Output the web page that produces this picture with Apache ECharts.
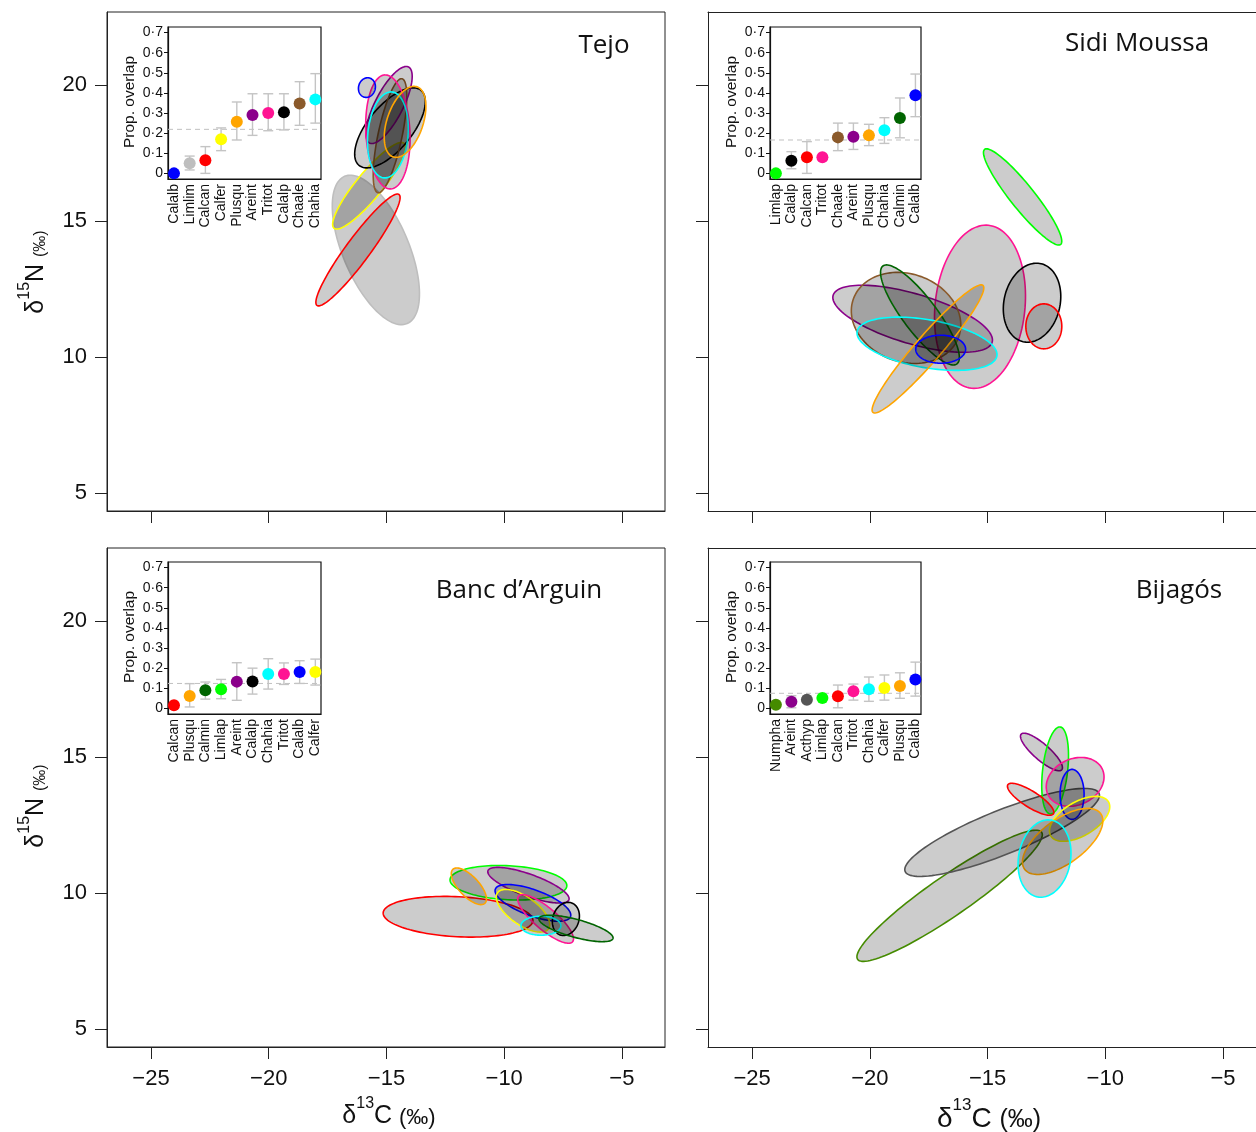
<!DOCTYPE html>
<html><head><meta charset="utf-8">
<script src="https://cdn.jsdelivr.net/npm/echarts@6/dist/echarts.min.js"></script>
<style>html,body{margin:0;padding:0;background:#fff}#c{width:1256px;height:1132px}</style>
</head><body><div id="c"></div><script>
// ---------------- DATA ----------------
const xTicks = [-25, -20, -15, -10, -5];
const yTicks = [5, 10, 15, 20];
const insetTicks = [0, 0.1, 0.2, 0.3, 0.4, 0.5, 0.6, 0.7];
const panelTitles = ['Tejo', 'Sidi Moussa', 'Banc d\u2019Arguin', 'Bijag\u00f3s'];

// Inset: proportional overlap (mean, lower, upper) per species
const tejoNames   = ['Calalb','Limlim','Calcan','Calfer','Plusqu','Areint','Tritot','Calalp','Chaale','Chahia'];
const tejoOverlap = [0, 0.05, 0.065, 0.17, 0.257, 0.29, 0.30, 0.304, 0.347, 0.368];
const tejoLow     = [null, 0.017, 0, 0.113, 0.166, 0.189, 0.212, 0.216, 0.239, 0.25];
const tejoHigh    = [null, 0.086, 0.133, 0.226, 0.355, 0.396, 0.396, 0.396, 0.456, 0.496];
const tejoMean    = 0.219;

const sidiNames   = ['Limlap','Calalp','Calcan','Tritot','Chaale','Areint','Plusqu','Chahia','Calmin','Calalb'];
const sidiOverlap = [0, 0.063, 0.08, 0.08, 0.179, 0.182, 0.189, 0.214, 0.275, 0.388];
const sidiLow     = [null, 0.023, 0, null, 0.113, 0.119, 0.138, 0.149, 0.177, 0.282];
const sidiHigh    = [null, 0.108, 0.158, null, 0.25, 0.25, 0.244, 0.277, 0.375, 0.494];
const sidiMean    = 0.166;

const bancNames   = ['Calcan','Plusqu','Calmin','Limlap','Areint','Calalp','Chahia','Tritot','Calalb','Calfer'];
const bancOverlap = [0.015, 0.061, 0.09, 0.095, 0.133, 0.134, 0.171, 0.171, 0.181, 0.181];
const bancLow     = [null, 0.007, 0.046, 0.048, 0.04, 0.071, 0.096, 0.119, 0.124, 0.116];
const bancHigh    = [null, 0.123, 0.131, 0.144, 0.227, 0.2, 0.247, 0.226, 0.237, 0.245];
const bancMean    = 0.124;

const bijaNames   = ['Numpha','Areint','Acthyp','Limlap','Calcan','Tritot','Chahia','Calfer','Plusqu','Calalb'];
const bijaOverlap = [0.018, 0.033, 0.043, 0.051, 0.06, 0.085, 0.095, 0.101, 0.111, 0.144];
const bijaLow     = [null, 0.003, null, null, 0.003, 0.041, 0.035, 0.041, 0.05, 0.061];
const bijaHigh    = [null, 0.063, null, null, 0.116, 0.121, 0.156, 0.166, 0.177, 0.23];
const bijaMean    = 0.075;

// Ellipses: [species, centre d13C, centre d15N, semi-axis u (dC, dN), conjugate semi-axis v (dC, dN)] in permil
const tejoEllipses = [
  ['Limlim', -15.45, 13.93, 1.328, -2.706, 1.29, 0.474],
  ['Calcan', -16.21, 13.93, 1.741, 2.04, 0.41, -0.262],
  ['Calfer', -15.74, 16.29, 1.486, 1.563, 0.427, -0.304],
  ['Calalp', -14.85, 18.42, 1.316, 1.379, 0.72, -0.515],
  ['Chaale', -14.85, 18.13, 0.51, 2.096, 0.499, -0.091],
  ['Areint', -14.89, 19.26, 0.828, 1.397, 0.529, -0.235],
  ['Tritot', -14.94, 18.27, -0.127, 2.096, 0.934, 0.043],
  ['Chahia', -14.94, 18.16, 0.17, 1.58, 0.849, -0.07],
  ['Plusqu', -14.21, 18.64, 0.51, 1.287, 0.723, -0.215],
  ['Calalb', -15.83, 19.90, 0.12, 0.35, 0.34, -0.09]
];
const sidiEllipses = [
  ['Limlap', -13.51, 15.88, 1.614, -1.746, 0.398, 0.276],
  ['Tritot', -15.32, 11.84, 0.361, 2.996, 1.898, -0.171],
  ['Calalp', -13.11, 11.99, 0.382, 1.434, 1.159, -0.232],
  ['Calcan', -12.61, 11.12, 0, 0.827, 0.764, 0],
  ['Areint', -18.18, 11.40, 3.376, -0.864, -0.30, -0.879],
  ['Chaale', -18.46, 11.43, 2.234, -0.705, -0.641, -1.519],
  ['Calmin', -17.87, 11.54, 1.571, -1.801, 0.576, 0.376],
  ['Chahia', -17.57, 10.48, 2.968, -0.452, -0.177, -0.868],
  ['Plusqu', -17.53, 10.29, 2.335, 2.335, 0.417, -0.313],
  ['Calalb', -16.99, 10.28, 1.06, 0, 0, 0.515]
];
const bancEllipses = [
  ['Calcan', -11.96, 9.12, 3.18, -0.143, -0.045, -0.735],
  ['Limlap', -9.82, 10.37, 2.48, -0.114, -0.038, -0.625],
  ['Plusqu', -11.50, 10.24, 0.679, -0.625, -0.31, -0.253],
  ['Areint', -8.97, 10.28, 1.72, -0.533, -0.158, -0.381],
  ['Calalb', -8.78, 9.63, 1.597, -0.504, -0.189, -0.449],
  ['Calfer', -9.20, 9.34, 1.083, -0.662, -0.343, -0.421],
  ['Tritot', -8.24, 9.04, 1.146, -0.838, -0.30, -0.309],
  ['Calalp', -7.38, 9.04, 0.246, 0.588, 0.52, -0.163],
  ['Chahia', -8.44, 8.79, 0.849, 0, 0, 0.349],
  ['Calmin', -6.95, 8.69, 1.571, -0.368, -0.1, -0.319]
];
const bijaEllipses = [
  ['Numpha', -16.61, 9.89, 3.907, 2.335, 0.482, -0.605],
  ['Acthyp', -14.38, 12.22, 4.119, 1.434, 0.349, -0.75],
  ['Areint', -12.71, 15.18, 0.862, -0.654, -0.224, -0.221],
  ['Limlap', -12.13, 14.50, 0.212, 1.599, 0.527, -0.051],
  ['Calcan', -13.17, 13.44, 0.968, -0.533, -0.183, -0.248],
  ['Tritot', -11.28, 14.08, 1.155, 0.467, 0.414, -0.767],
  ['Calalb', -11.41, 13.62, 0, 0.919, 0.51, 0],
  ['Calfer', -11.09, 12.72, 1.227, 0.625, 0.366, -0.539],
  ['Plusqu', -11.81, 11.89, 1.614, 1.024, 0.552, -0.653],
  ['Chahia', -12.58, 11.26, 0.289, 1.412, 1.087, -0.167]
];

// ---------------- STYLE ----------------
const COLORS = {Calalb:'#0000FF', Limlim:'#BEBEBE', Calcan:'#FF0000', Calfer:'#FFFF00', Plusqu:'#FFA500',
  Areint:'#8B008B', Tritot:'#FF1493', Calalp:'#000000', Chaale:'#8B5A2B', Chahia:'#00FFFF',
  Limlap:'#00FF00', Calmin:'#006400', Numpha:'#458B00', Acthyp:'#555555'};
const FONT = 'Liberation Sans';

const panels = [
  {names: tejoNames, ov: tejoOverlap, lo: tejoLow, hi: tejoHigh, mean: tejoMean, ell: tejoEllipses},
  {names: sidiNames, ov: sidiOverlap, lo: sidiLow, hi: sidiHigh, mean: sidiMean, ell: sidiEllipses},
  {names: bancNames, ov: bancOverlap, lo: bancLow, hi: bancHigh, mean: bancMean, ell: bancEllipses},
  {names: bijaNames, ov: bijaOverlap, lo: bijaLow, hi: bijaHigh, mean: bijaMean, ell: bijaEllipses}
];
// right-hand panels run off the page edge: narrower visible box, same scale
const mainBoxes = [
  {left: 107, top: 12, width: 558, xmax: -3.17, border: true},
  {left: 708, top: 12, width: 548, xmax: -3.60, border: false},
  {left: 107, top: 548, width: 558, xmax: -3.17, border: true},
  {left: 708, top: 548, width: 548, xmax: -3.60, border: false}
];
const insetBoxes = [
  {left: 168, top: 27, width: 153}, {left: 770, top: 27, width: 151},
  {left: 168, top: 562, width: 153}, {left: 770, top: 562, width: 151}
];
const titlePos = [[604, 46], [1137, 44], [519, 591], [1179, 591]];

const grid = [], xAxis = [], yAxis = [], series = [];
const fmtMinus = v => (v < 0 ? '\u2212' : '') + Math.abs(v);

mainBoxes.forEach((b, i) => {
  grid.push({left: b.left, top: b.top, width: b.width, height: 499, show: b.border, borderColor: '#222', borderWidth: 1, z: 0});
  xAxis.push({gridIndex: i, type: 'value', min: -26.87, max: b.xmax,
    axisLine: {show: true, onZero: false, lineStyle: {color: '#222', width: 1}},
    axisTick: {show: true, length: 12, customValues: xTicks, lineStyle: {color: '#222'}},
    axisLabel: {show: i >= 2, customValues: xTicks, formatter: fmtMinus, margin: 21, fontSize: 22, color: '#111', fontFamily: FONT},
    splitLine: {show: false}});
  yAxis.push({gridIndex: i, type: 'value', min: 4.33, max: 22.68,
    axisLine: {show: true, onZero: false, lineStyle: {color: '#222', width: 1}},
    axisTick: {show: true, length: 12, customValues: yTicks, lineStyle: {color: '#222'}},
    axisLabel: {show: i % 2 === 0, customValues: yTicks, margin: 20, fontSize: 22, color: '#111', fontFamily: FONT},
    splitLine: {show: false}});
});
insetBoxes.forEach((b, j) => {
  const i = 4 + j;
  const names = panels[j].names;
  grid.push({left: b.left, top: b.top, width: b.width, height: 152, show: true, borderColor: '#111', borderWidth: 1.2, backgroundColor: '#fff', z: 5});
  xAxis.push({gridIndex: i, type: 'value', min: 0.62, max: 10.36, z: 6,
    axisLine: {show: true, onZero: false, lineStyle: {color: '#111', width: 1.2}},
    axisTick: {show: false},
    axisLabel: {show: true, customValues: [1,2,3,4,5,6,7,8,9,10], rotate: 90, margin: 5,
      formatter: v => names[Math.round(v) - 1] || '', fontSize: 14, color: '#111', fontFamily: FONT},
    splitLine: {show: false}});
  yAxis.push({gridIndex: i, type: 'value', min: -0.028, max: 0.728, z: 6,
    axisLine: {show: true, onZero: false, lineStyle: {color: '#111', width: 1.2}},
    axisTick: {show: true, length: 4, customValues: insetTicks, lineStyle: {color: '#111'}},
    axisLabel: {show: true, customValues: insetTicks, margin: 5, fontSize: 14, color: '#111', fontFamily: FONT,
      formatter: v => v < 0.001 ? '0' : v.toFixed(1).replace('.', '\u00b7')},
    splitLine: {show: false}});
});
// top frame line for the right-hand panels (no right border visible there)
[1, 3].forEach(i => {
  xAxis.push({gridIndex: i, type: 'value', position: 'top', min: -26.87, max: mainBoxes[i].xmax,
    axisLine: {show: true, onZero: false, lineStyle: {color: '#222', width: 1}},
    axisTick: {show: false}, axisLabel: {show: false}, splitLine: {show: false}});
});

panels.forEach((p, j) => {
  const ell = p.ell;
  series.push({type: 'custom', xAxisIndex: j, yAxisIndex: j, clip: true, z: 2,
    data: ell.map(e => [e[1], e[2]]), encode: {x: 0, y: 1},
    renderItem: (params, api) => {
      const e = ell[params.dataIndex];
      const pts = [];
      for (let k = 0; k <= 120; k++) {
        const t = k / 120 * 2 * Math.PI;
        pts.push(api.coord([e[1] + e[3] * Math.cos(t) + e[5] * Math.sin(t), e[2] + e[4] * Math.cos(t) + e[6] * Math.sin(t)]));
      }
      return {type: 'polygon', shape: {points: pts}, style: {fill: 'rgba(0,0,0,0.2)', stroke: COLORS[e[0]], lineWidth: 1.6}};
    }});
  const ax = 4 + j;
  series.push({type: 'line', xAxisIndex: ax, yAxisIndex: ax, z: 6, symbol: 'none', silent: true,
    data: [[0.62, p.mean], [10.36, p.mean]], lineStyle: {color: '#C0C0C0', width: 1, type: [5, 4]}});
  const eb = p.ov.map((v, k) => [k + 1, p.lo[k], p.hi[k]]).filter(d => d[1] !== null);
  series.push({type: 'custom', xAxisIndex: ax, yAxisIndex: ax, z: 7, data: eb, encode: {x: 0, y: [1, 2]},
    renderItem: (params, api) => {
      const lo = api.coord([api.value(0), api.value(1)]);
      const hi = api.coord([api.value(0), api.value(2)]);
      const st = {stroke: '#C4C4C4', lineWidth: 1.4};
      return {type: 'group', children: [
        {type: 'line', shape: {x1: lo[0], y1: lo[1], x2: hi[0], y2: hi[1]}, style: st},
        {type: 'line', shape: {x1: lo[0] - 5, y1: lo[1], x2: lo[0] + 5, y2: lo[1]}, style: st},
        {type: 'line', shape: {x1: hi[0] - 5, y1: hi[1], x2: hi[0] + 5, y2: hi[1]}, style: st}
      ]};
    }});
  series.push({type: 'scatter', xAxisIndex: ax, yAxisIndex: ax, z: 8, symbolSize: 12,
    itemStyle: {opacity: 1},
    data: p.ov.map((v, k) => ({value: [k + 1, v], itemStyle: {color: COLORS[p.names[k]], opacity: 1}}))});
});

const graphic = [];
titlePos.forEach((t, i) => {
  graphic.push({type: 'text', x: t[0], y: t[1], z: 20, style: {text: panelTitles[i], fontFamily: 'Open Sans', fontSize: 26,
    fill: '#111', textAlign: 'center', textVerticalAlign: 'middle'}});
});
insetBoxes.forEach(b => {
  graphic.push({type: 'text', x: b.left - 38, y: b.top + 75, rotation: Math.PI / 2, z: 20,
    style: {text: 'Prop. overlap', fontFamily: FONT, fontSize: 15.5, fill: '#111', textAlign: 'center', textVerticalAlign: 'middle'}});
});
const richX = (s) => ({
  a: {fontFamily: FONT, fontSize: s, lineHeight: s + 8, fill: '#111', verticalAlign: 'bottom'},
  sup: {fontFamily: FONT, fontSize: Math.round(s * 0.62), lineHeight: s + 8, fill: '#111', verticalAlign: 'top'},
  p: {fontFamily: FONT, fontSize: Math.round(s * 0.88), lineHeight: s + 8, fill: '#111', verticalAlign: 'bottom'}
});
graphic.push({type: 'text', x: 389, y: 1112, z: 20, style: {text: '{a|\u03b4}{sup|13}{a|C }{p|(\u2030)}', rich: richX(25), textAlign: 'center', textVerticalAlign: 'middle'}});
graphic.push({type: 'text', x: 989, y: 1115, z: 20, style: {text: '{a|\u03b4}{sup|13}{a|C }{p|(\u2030)}', rich: richX(28), textAlign: 'center', textVerticalAlign: 'middle'}});
[272, 806].forEach(y => {
  graphic.push({type: 'text', x: 33, y: y, rotation: Math.PI / 2, z: 20,
    style: {text: '{a|\u03b4}{sup|15}{a|N }{p|(\u2030)}', rich: {
      a: {fontFamily: FONT, fontSize: 25, lineHeight: 32, fill: '#111', verticalAlign: 'bottom'},
      sup: {fontFamily: FONT, fontSize: 16, lineHeight: 32, fill: '#111', verticalAlign: 'top'},
      p: {fontFamily: FONT, fontSize: 16, lineHeight: 32, fill: '#111', verticalAlign: 'bottom'}
    }, textAlign: 'center', textVerticalAlign: 'middle'}});
});

const chart = echarts.init(document.getElementById('c'), null, {renderer: 'canvas'});
chart.setOption({animation: false, backgroundColor: '#fff', grid, xAxis, yAxis, series, graphic});
</script></body></html>
